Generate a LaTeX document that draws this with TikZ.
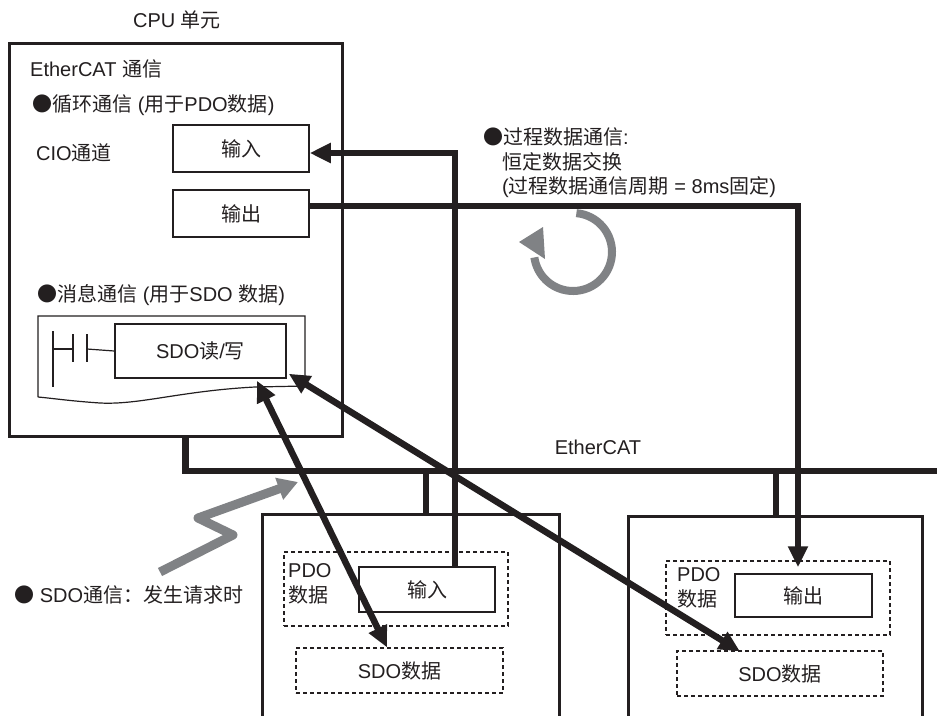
\documentclass[tikz,border=0pt]{standalone}
\usepackage{fontspec}
\setmainfont{Liberation Sans}
\newfontfamily\cjkfont{Noto Sans CJK SC}
\newcommand\zh[1]{{\cjkfont #1}}
\usetikzlibrary{arrows.meta}
\definecolor{ink}{RGB}{35,31,32}
\definecolor{cyclegray}{RGB}{128,130,133}
\begin{document}
\begin{tikzpicture}[x=1pt,y=-1pt,
  lbl/.style={font=\fontsize{20}{24}\selectfont, inner sep=0pt, text=ink},
  lblw/.style={lbl, anchor=west},
  bigbox/.style={draw=ink, line width=3pt, inner sep=0pt},
  smallbox/.style={draw=ink, line width=1.5pt, inner sep=0pt, font=\fontsize{20}{24}\selectfont, text=ink},
  dbox/.style={draw=ink, line width=1.2pt, dash pattern=on 4pt off 3pt, inner sep=0pt, font=\fontsize{20}{24}\selectfont, text=ink},
  heavy/.style={draw=ink, line width=6.5pt},
  thin ink/.style={draw=ink, line width=1.2pt},
  bigtip/.tip={Triangle[length=21pt,width=19pt]},
  graytip/.tip={Triangle[length=20pt,width=22pt]}
]
\useasboundingbox (0,0) rectangle (937,715);
\clip (0,0) rectangle (937,715);
\fill[white] (0,0) rectangle (937,715);

% CPU unit
\node[lbl] (cputitle) at (177,20) {CPU \zh{单元}};
\node[bigbox, minimum width=333, minimum height=393] (cpu) at (175.5,239.5) {};
\node[lblw] (ecomm) at (30,69) {EtherCAT \zh{通信}};
\node[lblw] (cyc) at (32,105) {\zh{●循环通信} (\zh{用于}PDO\zh{数据})};
\node[lblw] (cio) at (36,153) {CIO\zh{通道}};
\node[smallbox, minimum width=136, minimum height=47] (cin) at (241,148.5) {\zh{输入}};
\node[smallbox, minimum width=136, minimum height=47] (cout) at (241,213.5) {\zh{输出}};
\node[lblw] (msg) at (37,295) {\zh{●消息通信} (\zh{用于}SDO \zh{数据})};

% ladder scroll
\draw[thin ink] (38,397) -- (38,316) -- (305,316) -- (305,386) -- (255,387)
  .. controls (180,391) and (140,405) .. (100,403)
  .. controls (70,401) and (50,398) .. (38,397);
\node[smallbox, minimum width=171, minimum height=54, fill=white] (sdorw) at (200.5,351) {SDO\zh{读}/\zh{写}};
\draw[thin ink] (53,331) -- (53,387);
\draw[thin ink] (53,349) -- (73,349);
\draw[thin ink] (73,334) -- (73,362);
\draw[thin ink] (87,334) -- (87,362);
\draw[thin ink] (87,349) -- (sdorw.west);

% process data text
\node[lblw] (p1) at (483,137) {\zh{●过程数据通信}:};
\node[lblw] (p2) at (502,162) {\zh{恒定数据交换}};
\node[lblw] (p3) at (502,187) {(\zh{过程数据通信周期} = 8ms\zh{固定})};

% cycle symbol
\draw[cyclegray, line width=8pt] (576.4,213.15) arc[start angle=-85, end angle=172, radius=39];
\fill[cyclegray] (519,242) -- (543,227) -- (545,259) -- cycle;

% slave nodes
\node[bigbox, minimum width=297, minimum height=216] (n1) at (410.5,622) {};
\node[dbox, minimum width=224, minimum height=74] (pdo1) at (396,589) {};
\node[lblw] (pdo1a) at (288,571) {PDO};
\node[lblw] (pdo1b) at (288,595) {\zh{数据}};
\node[smallbox, minimum width=136, minimum height=45, fill=white] (in1) at (427,589.5) {\zh{输入}};
\node[dbox, minimum width=207, minimum height=45] (sdo1) at (399.5,670.5) {SDO\zh{数据}};

\node[bigbox, minimum width=294, minimum height=216] (n2) at (775,624) {};
\node[dbox, minimum width=224, minimum height=74] (pdo2) at (778,598) {};
\node[lblw] (pdo2a) at (677,575) {PDO};
\node[lblw] (pdo2b) at (677,599) {\zh{数据}};
\node[smallbox, minimum width=137, minimum height=43] (out2) at (803.5,595.5) {\zh{输出}};
\node[dbox, minimum width=206, minimum height=45] (sdo2) at (780,673.5) {SDO\zh{数据}};

% EtherCAT bus
\coordinate (busend) at (937,471);
\node[lbl] (eclbl) at (598,447) {EtherCAT};
\draw[heavy] ([xshift=178pt]cpu.south west) |- (busend);
\draw[heavy] ([xshift=15.5pt]n1.north) -- ([xshift=15.5pt]n1.north |- busend);
\draw[heavy] ([xshift=1pt]n2.north) -- ([xshift=1pt]n2.north |- busend);

% process data lines
\draw[heavy, -{bigtip}] ([xshift=28pt]in1.north) |- ([yshift=-4.5pt]cin.east);
\draw[heavy, -{bigtip}] ([yshift=7.5pt]cout.east) -| ([xshift=-5.5pt,yshift=6pt]out2.north);

% SDO lines
\draw[heavy, {bigtip}-{bigtip}] ([xshift=56.5pt,yshift=-2pt]sdorw.south) -- ([xshift=-12.5pt]sdo1.north);
\draw[heavy, {bigtip}-{bigtip}] ([xshift=2pt,yshift=5pt]sdorw.south east) -- ([xshift=-40pt,yshift=-1pt]sdo2.north);

% SDO request lightning
\coordinate (zz0) at (160,572);
\coordinate (zz3) at (298,482);
\draw[cyclegray, line width=9pt, line join=round, -{graytip}] (zz0) -- (233,535) -- (198,518) -- (zz3);
\node[lblw] (sdolbl) at (14,595) {\zh{●} SDO\zh{通信：发生请求时}};
\end{tikzpicture}
\end{document}
